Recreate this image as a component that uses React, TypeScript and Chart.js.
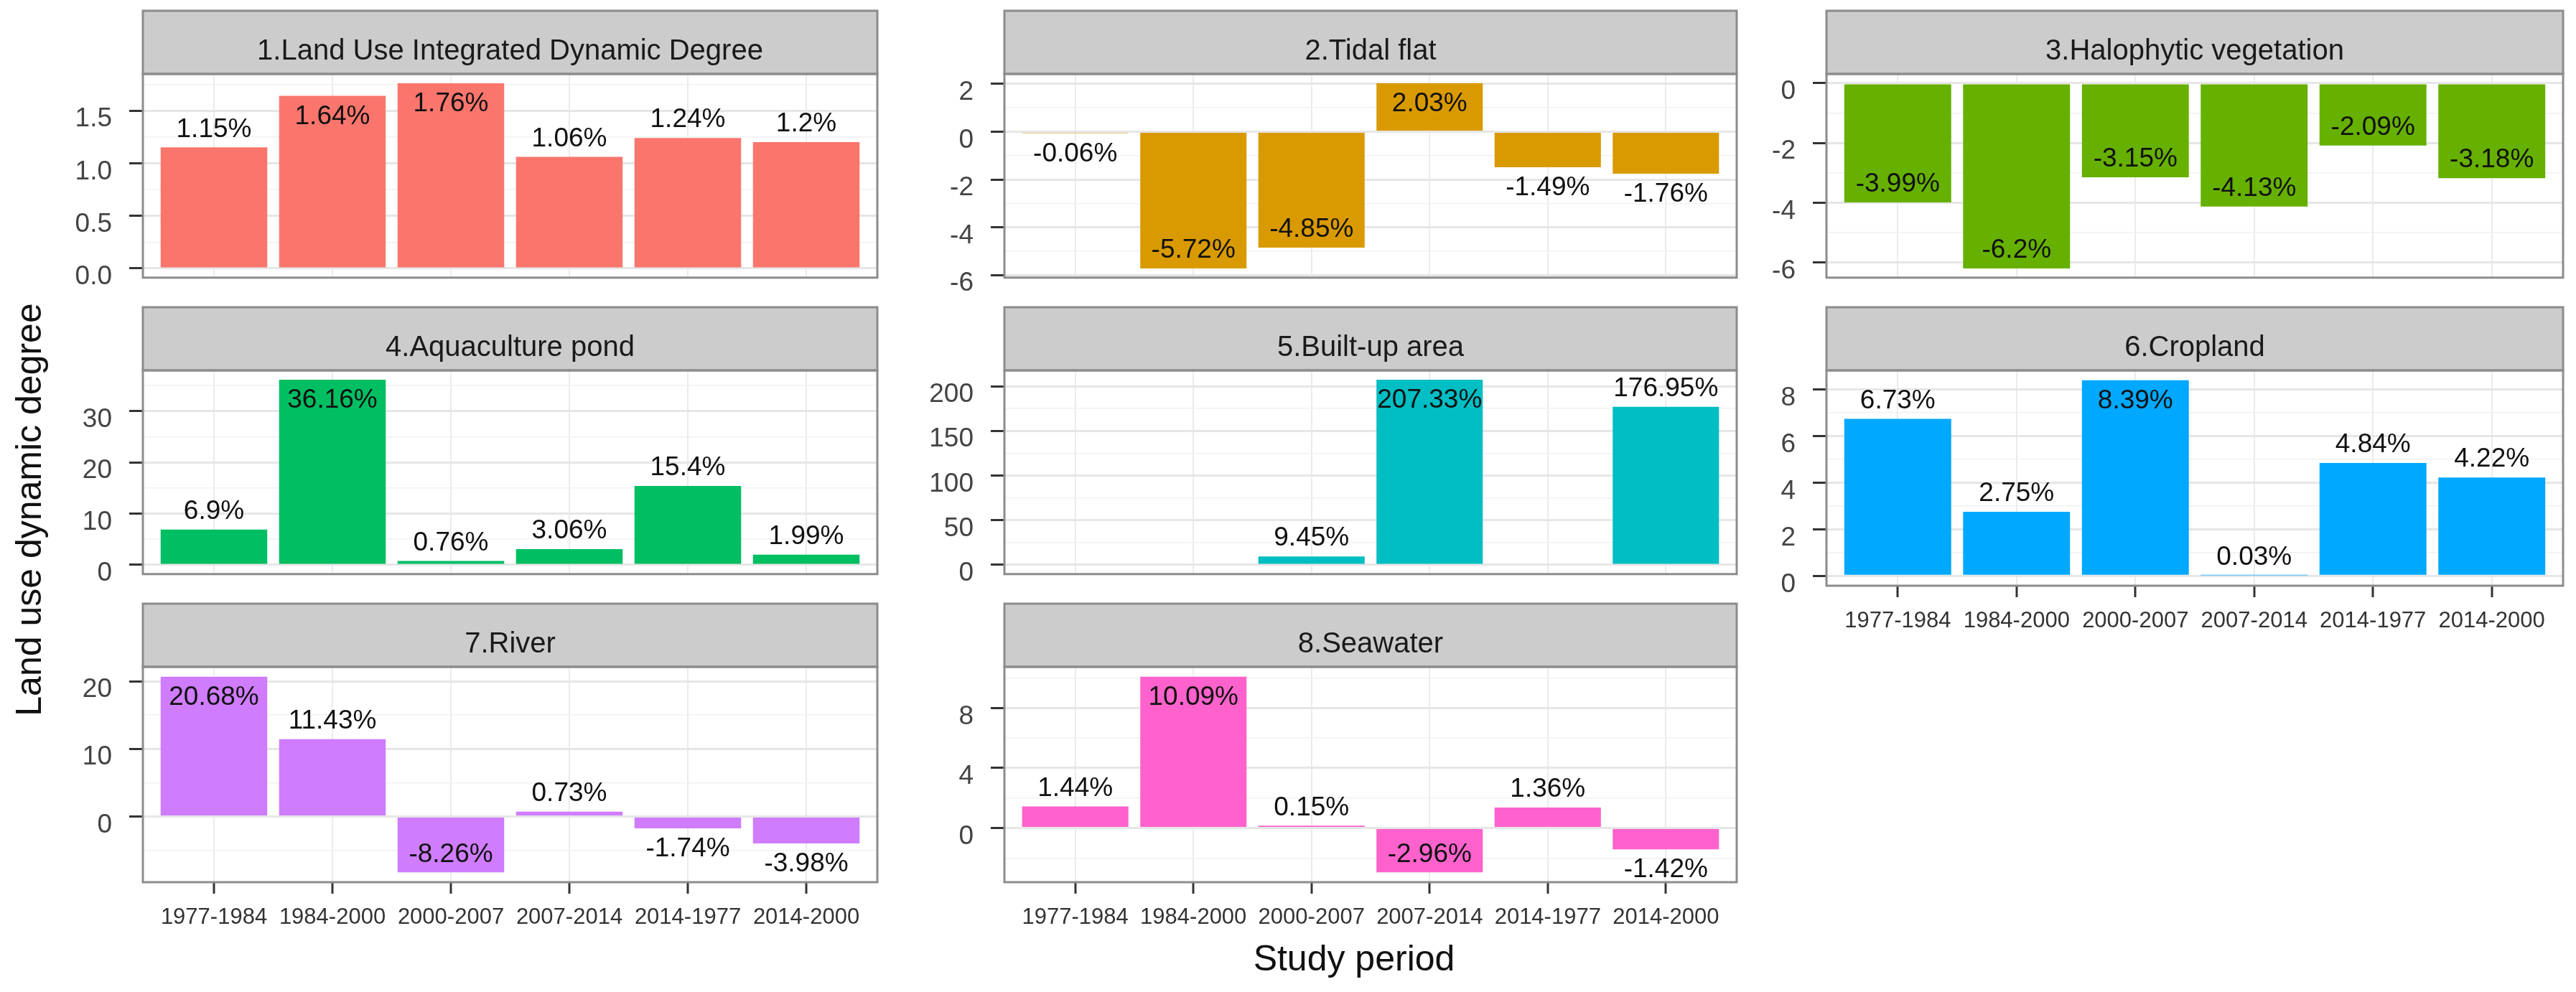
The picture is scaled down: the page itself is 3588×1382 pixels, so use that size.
import React, { useEffect, useRef } from "react";
import { Chart, registerables } from "chart.js";

Chart.register(...registerables);

// ---------------- data ----------------
const periods = ["1977-1984", "1984-2000", "2000-2007", "2007-2014", "2014-1977", "2014-2000"];

const integratedDynamic = [1.15, 1.64, 1.76, 1.06, 1.24, 1.2];
const tidalFlat = [-0.06, -5.72, -4.85, 2.03, -1.49, -1.76];
const halophyticVegetation = [-3.99, -6.2, -3.15, -4.13, -2.09, -3.18];
const aquaculturePond = [6.9, 36.16, 0.76, 3.06, 15.4, 1.99];
const builtUpArea: (number | null)[] = [null, null, 9.45, 207.33, null, 176.95];
const cropland = [6.73, 2.75, 8.39, 0.03, 4.84, 4.22];
const river = [20.68, 11.43, -8.26, 0.73, -1.74, -3.98];
const seawater = [1.44, 10.09, 0.15, -2.96, 1.36, -1.42];

const ticks1 = [0, 0.5, 1, 1.5];
const ticks2 = [-6, -4, -2, 0, 2];
const ticks3 = [-6, -4, -2, 0];
const ticks4 = [0, 10, 20, 30];
const ticks5 = [0, 50, 100, 150, 200];
const ticks6 = [0, 2, 4, 6, 8];
const ticks7 = [0, 10, 20];
const ticks8 = [0, 4, 8];

// whether the value label sits inside the bar
const inside1 = [false, true, true, false, false, false];
const inside2 = [false, true, true, true, false, false];
const inside3 = [true, true, true, true, true, true];
const inside4 = [false, true, false, false, false, false];
const inside5 = [false, false, false, true, false, false];
const inside6 = [false, false, true, false, false, false];
const inside7 = [true, false, true, false, false, false];
const inside8 = [false, true, false, true, false, false];

const titles = [
  "1.Land Use Integrated Dynamic Degree",
  "2.Tidal flat",
  "3.Halophytic vegetation",
  "4.Aquaculture pond",
  "5.Built-up area",
  "6.Cropland",
  "7.River",
  "8.Seawater",
];

const colors = ["#FA766D", "#D99A00", "#66B000", "#00BE62", "#00BEC3", "#00A8FF", "#CF7CFF", "#FF62CC"];

const yTitle = "Land use dynamic degree";
const xTitle = "Study period";

// ---------------- layout ----------------
const FONT = '"Liberation Sans", Arial, Helvetica, sans-serif';
const COL_LEFT = [199, 1399, 2544];
const COL_RIGHT = [1222, 2419, 3570];
const ROW_STRIP_TOP = [15, 428, 841];
const STRIP_H = 88;
const PLOT_H = 300;
const Y_AXIS_W = 190;
const X_AXIS_H = 80;

type Spec = {
  title: string;
  values: (number | null)[];
  color: string;
  yTicks: number[];
  inside: boolean[];
  decimals: number;
  row: number;
  col: number;
  xAxis: boolean;
};

const specs: Spec[] = [
  { title: titles[0], values: integratedDynamic, color: colors[0], yTicks: ticks1, inside: inside1, decimals: 1, row: 0, col: 0, xAxis: false },
  { title: titles[1], values: tidalFlat, color: colors[1], yTicks: ticks2, inside: inside2, decimals: 0, row: 0, col: 1, xAxis: false },
  { title: titles[2], values: halophyticVegetation, color: colors[2], yTicks: ticks3, inside: inside3, decimals: 0, row: 0, col: 2, xAxis: false },
  { title: titles[3], values: aquaculturePond, color: colors[3], yTicks: ticks4, inside: inside4, decimals: 0, row: 1, col: 0, xAxis: false },
  { title: titles[4], values: builtUpArea, color: colors[4], yTicks: ticks5, inside: inside5, decimals: 0, row: 1, col: 1, xAxis: false },
  { title: titles[5], values: cropland, color: colors[5], yTicks: ticks6, inside: inside6, decimals: 0, row: 1, col: 2, xAxis: true },
  { title: titles[6], values: river, color: colors[6], yTicks: ticks7, inside: inside7, decimals: 0, row: 2, col: 0, xAxis: true },
  { title: titles[7], values: seawater, color: colors[7], yTicks: ticks8, inside: inside8, decimals: 0, row: 2, col: 1, xAxis: true },
];

function Panel({ spec }: { spec: Spec }) {
  const ref = useRef<HTMLCanvasElement>(null);

  useEffect(() => {
    const canvas = ref.current;
    if (!canvas) return;
    const nums = spec.values.filter((v): v is number => v !== null);
    const lo = Math.min(0, ...nums);
    const hi = Math.max(0, ...nums);
    const pad = (hi - lo) * 0.05;
    const ymin = lo - pad;
    const ymax = hi + pad;
    const major = spec.yTicks;
    const step = major[1] - major[0];
    const isMajor = (v: number) => major.some((t) => Math.abs(t - v) < step * 1e-6);
    const all: number[] = [];
    for (let k = -1; k <= major.length; k++) {
      const m = major[0] + k * step;
      const mid = m + step / 2;
      if (k >= 0 && k < major.length) all.push(m);
      if (mid >= ymin && mid <= ymax) all.push(mid);
    }
    all.sort((a, b) => a - b);

    const panelPlugin = {
      id: "panelDeco",
      afterDatasetsDraw(chart: any) {
        const ctx = chart.ctx as CanvasRenderingContext2D;
        const meta = chart.getDatasetMeta(0);
        ctx.save();
        ctx.font = `37px ${FONT}`;
        ctx.fillStyle = "#111111";
        ctx.textAlign = "center";
        ctx.textBaseline = "middle";
        meta.data.forEach((el: any, i: number) => {
          const v = spec.values[i];
          if (v === null || v === undefined) return;
          const downward = (v >= 0) === spec.inside[i];
          const y = el.y + (downward ? 29 : -25);
          ctx.fillText(`${v}%`, el.x, y);
        });
        ctx.restore();
      },
      afterDraw(chart: any) {
        const ctx = chart.ctx as CanvasRenderingContext2D;
        const { left, right, top, bottom } = chart.chartArea;
        ctx.save();
        ctx.fillStyle = "#cccccc";
        ctx.fillRect(left, top - STRIP_H, right - left, STRIP_H);
        ctx.strokeStyle = "#8c8c8c";
        ctx.lineWidth = 3;
        ctx.strokeRect(left, top - STRIP_H, right - left, STRIP_H);
        ctx.strokeRect(left, top, right - left, bottom - top);
        ctx.fillStyle = "#1a1a1a";
        ctx.font = `40px ${FONT}`;
        ctx.textAlign = "center";
        ctx.textBaseline = "middle";
        ctx.fillText(spec.title, (left + right) / 2, top - STRIP_H / 2 + 13);
        ctx.restore();
      },
    };

    const chart = new Chart(canvas, {
      type: "bar",
      data: {
        datasets: [
          {
            data: spec.values.map((v, i) => ({ x: i, y: v })) as any,
            backgroundColor: spec.color,
            borderWidth: 0,
            barPercentage: 0.9,
            categoryPercentage: 1,
          },
        ],
      },
      options: {
        animation: false,
        responsive: true,
        maintainAspectRatio: false,
        layout: { padding: { top: STRIP_H + 4, right: 8, bottom: spec.xAxis ? 0 : 30, left: 0 } },
        plugins: { legend: { display: false }, tooltip: { enabled: false }, title: { display: false } },
        scales: {
          x: {
            type: "linear",
            min: -0.6,
            max: 5.6,
            offset: false,
            afterBuildTicks: (s: any) => {
              s.ticks = periods.map((_, i) => ({ value: i }));
            },
            afterFit: (s: any) => {
              s.height = spec.xAxis ? X_AXIS_H : 0;
            },
            ticks: {
              display: spec.xAxis,
              autoSkip: false,
              maxRotation: 0,
              callback: (v: any) => periods[Math.round(Number(v))] ?? "",
              font: { family: FONT, size: 31 },
              color: "#333333",
              padding: 15,
            },
            grid: {
              offset: false,
              color: "#ebebeb",
              lineWidth: 2,
              drawTicks: spec.xAxis,
              tickLength: 16,
              tickColor: "#333333",
              tickWidth: 3,
            },
            border: { display: false },
          },
          y: {
            type: "linear",
            min: ymin,
            max: ymax,
            afterBuildTicks: (s: any) => {
              s.ticks = all.map((v) => ({ value: v }));
            },
            afterFit: (s: any) => {
              s.width = Y_AXIS_W;
            },
            ticks: {
              autoSkip: false,
              callback: (v: any) => (isMajor(Number(v)) ? Number(v).toFixed(spec.decimals) : ""),
              font: { family: FONT, size: 37 },
              color: "#444444",
              padding: 24,
              labelOffset: 12,
            },
            grid: {
              color: (c: any) => (c.tick && isMajor(c.tick.value) ? "#e6e6e6" : "#f1f1f1"),
              lineWidth: (c: any) => (c.tick && isMajor(c.tick.value) ? 3 : 1.5),
              tickLength: 19,
              tickColor: (c: any) => (c.tick && isMajor(c.tick.value) ? "#333333" : "rgba(0,0,0,0)"),
              tickWidth: 3,
            },
            border: { display: false },
          },
        },
      } as any,
      plugins: [panelPlugin],
    });
    return () => chart.destroy();
  }, [spec]);

  const left = COL_LEFT[spec.col] - Y_AXIS_W;
  const top = ROW_STRIP_TOP[spec.row] - 4;
  const width = Y_AXIS_W + (COL_RIGHT[spec.col] - COL_LEFT[spec.col]) + 8;
  const height = 4 + STRIP_H + PLOT_H + (spec.xAxis ? X_AXIS_H : 30);

  return (
    <div style={{ position: "absolute", left, top, width, height }}>
      <canvas ref={ref} />
    </div>
  );
}

export default function App() {
  return (
    <div style={{ position: "absolute", left: 0, top: 0, width: 3588, height: 1382, background: "#ffffff", overflow: "hidden" }}>
      {specs.map((s) => (
        <Panel key={s.title} spec={s} />
      ))}
      <svg width={3588} height={1382} style={{ position: "absolute", left: 0, top: 0, pointerEvents: "none" }}>
        <text x={1886} y={1352} textAnchor="middle" fontFamily={FONT} fontSize={50} fill="#111111">
          {xTitle}
        </text>
        <text transform="translate(57,710) rotate(-90)" textAnchor="middle" fontFamily={FONT} fontSize={50} fill="#111111">
          {yTitle}
        </text>
      </svg>
    </div>
  );
}
